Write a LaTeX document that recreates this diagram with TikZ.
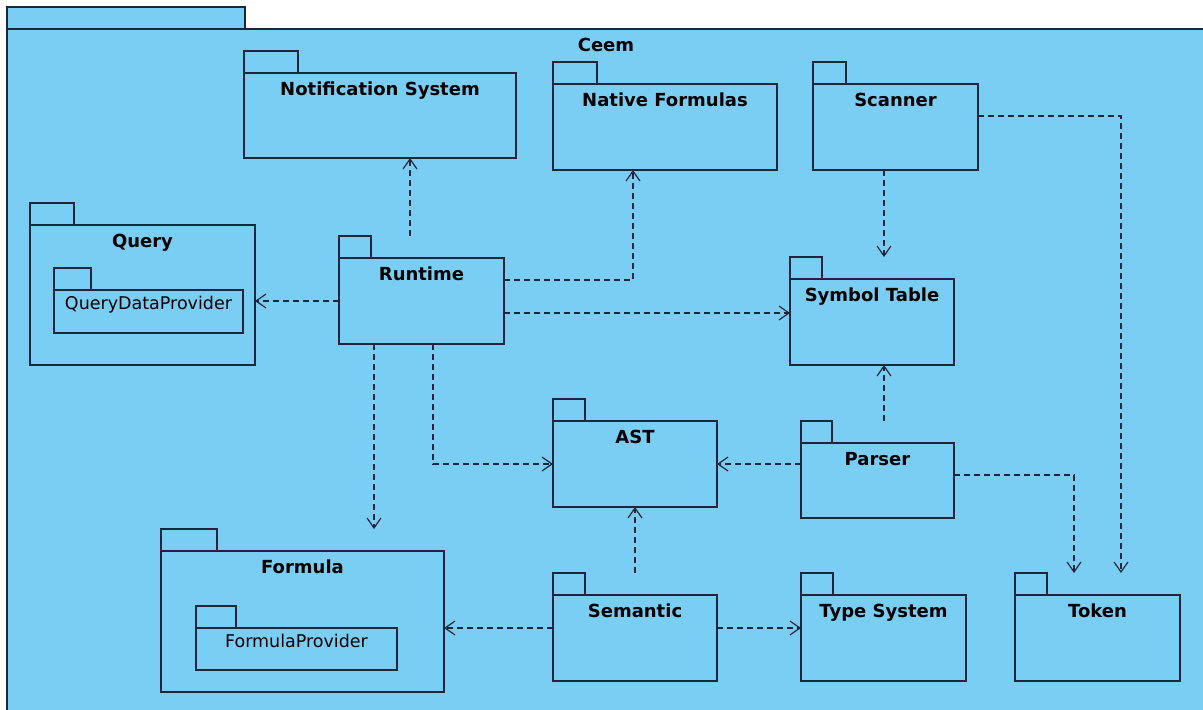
\documentclass[tikz,border=0pt]{standalone}
\usepackage{fontspec}
\setmainfont{DejaVu Sans}
\usetikzlibrary{arrows.meta}
\definecolor{pkgfill}{RGB}{122,206,243}
\definecolor{pkgline}{RGB}{30,38,62}
\tikzset{
  pkgbody/.style={draw=pkgline, fill=pkgfill, line width=1.3pt, inner sep=0pt, outer sep=0pt},
  pkgtab/.style={pkgbody, minimum height=22pt},
  pkgtext/.style={anchor=base, yshift=-22pt, font=\fontsize{18}{20}\selectfont\bfseries, text=black},
  subtext/.style={anchor=base, yshift=-19pt, font=\fontsize{17.5}{20}\selectfont, text=black},
  dep/.style={draw=pkgline, line width=1.2pt, dash pattern=on 6pt off 4pt, -{Straight Barb[length=10pt,width=14pt]}}
}
\newcommand{\pkg}[7][pkgtext]{%
  \node[pkgbody, minimum width=#4pt, minimum height=#5pt, anchor=north west] (#2) at (#3) {};
  \node[pkgtab, minimum width=#6pt, anchor=south west] (#2-tab) at (#2.north west) {};
  \node[#1] (#2-text) at (#2.north) {#7};
}
\begin{document}
\begin{tikzpicture}[x=1pt, y=-1pt]
\useasboundingbox (0,0) rectangle (1203,710);
\fill[white] (0,0) rectangle (1203,710);
\clip (0,0) rectangle (1203,710);

\pkg{ceem}{7,29}{1198}{700}{238}{Ceem}

\pkg{ns}{244,73}{272}{85}{54}{Notification System}
\pkg{nf}{553,84}{224}{86}{44}{Native Formulas}
\pkg{sc}{813,84}{165}{86}{33}{Scanner}
\pkg{qu}{30,225}{225}{140}{44}{Query}
\pkg[subtext]{qdp}{54,290}{189}{43}{37}{QueryDataProvider}
\pkg{rt}{339,258}{165}{86}{32}{Runtime}
\pkg{st}{790,279}{164}{86}{32}{Symbol Table}
\pkg{ast}{553,421}{164}{86}{32}{AST}
\pkg{pa}{801,443}{153}{75}{31}{Parser}
\pkg{fo}{161,551}{283}{141}{56}{Formula}
\pkg[subtext]{fp}{196,628}{201}{42}{40}{FormulaProvider}
\pkg{se}{553,595}{164}{86}{32}{Semantic}
\pkg{ts}{801,595}{165}{86}{32}{Type System}
\pkg{tk}{1015,595}{165}{86}{32}{Token}

\draw[dep] ([xshift=-11.5pt,yshift=22pt]rt.north) -- ([xshift=-11.5pt]rt.north |- ns.south);
\draw[dep] ([yshift=21pt]rt.east) -| ([xshift=-32pt]nf.south);
\draw[dep] ([yshift=-12pt]rt.east) -- ([yshift=-12pt]rt.east -| st.west);
\draw[dep] (rt.west) -- (rt.west -| qu.east);
\draw[dep] ([xshift=-47.5pt]rt.south) -- ([xshift=-47.5pt]rt.south |- fo-tab.north);
\draw[dep] ([xshift=11.5pt]rt.south) |- (ast.west);

\draw[dep] ([xshift=-11.5pt]sc.south) -- ([xshift=-11.5pt]sc.south |- st-tab.north);
\draw[dep] ([yshift=11pt]sc.east) -| ([xshift=23.5pt]tk.north |- tk-tab.north);

\draw[dep] ([xshift=6.5pt]pa.north |- pa-tab.north) -- ([xshift=6.5pt]pa.north |- st.south);
\draw[dep] (ast.east -| pa.west) -- (ast.east);
\draw[dep] ([yshift=5.5pt]pa.east) -| ([xshift=-23.5pt]tk.north |- tk-tab.north);

\draw[dep] (se.north |- se-tab.north) -- (ast.south);
\draw[dep] ([yshift=10pt]se.west) -- ([yshift=10pt]se.west -| fo.east);
\draw[dep] ([yshift=10pt]se.east) -- ([yshift=10pt]se.east -| ts.west);
\end{tikzpicture}
\end{document}
